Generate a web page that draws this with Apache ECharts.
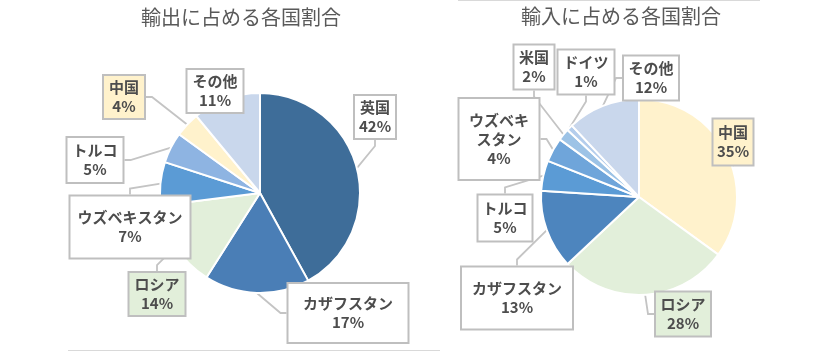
<!DOCTYPE html>
<html>
<head>
<meta charset="utf-8">
<script src="https://cdn.jsdelivr.net/npm/echarts@6/dist/echarts.min.js"></script>
<style>
  html, body { margin: 0; padding: 0; background: #fff; }
  #chart { width: 825px; height: 351px; }
</style>
</head>
<body>
<div id="chart"></div>
<script>
// 輸出
const exportNames = ['英国', 'カザフスタン', 'ロシア', 'ウズベキスタン', 'トルコ', '中国', 'その他']
const exportValues = [42, 17, 14, 7, 5, 4, 11]
// 輸入
const importNames = ['中国', 'ロシア', 'カザフスタン', 'トルコ', 'ウズベキスタン', '米国', 'ドイツ', 'その他']
const importValues = [35, 28, 13, 5, 4, 2, 1, 12]

const exportColors = ['#3E6D99', '#4A7EB6', '#E2EFDA', '#5B9BD5', '#8EB4E2', '#FFF2CC', '#C9D7EC']
const importColors = ['#FFF2CC', '#E2EFDA', '#4D85BE', '#5B9BD5', '#6FA5DA', '#9DC3E6', '#B4CDEC', '#C9D7EC']

// label box: center x, center y, width, height
const exportBoxes = [
  [375, 117, 42, 44],
  [348, 313, 121, 60],
  [157, 294, 57, 44],
  [130, 227, 121, 63],
  [95, 160, 57, 46],
  [124, 97, 42, 44],
  [215, 91, 57, 44]
]
const importBoxes = [
  [733, 142, 41, 47],
  [683, 314, 56, 45],
  [517, 298, 112, 63],
  [505, 218, 55, 47],
  [499, 139, 81, 82],
  [534, 67, 41, 45],
  [586, 72, 57, 45],
  [651, 78, 56, 45]
]

const tinted = { '中国': '#FFF2CC', 'ロシア': '#E2EFDA' }
const lineH = 19

function labelText(name, wrap) {
  if (wrap && name === 'ウズベキスタン') return 'ウズベキ\nスタン'
  return name
}

function buildData(names, values, colors, boxes, wrap) {
  return names.map((n, i) => {
    const b = boxes[i]
    const lines = labelText(n, wrap).split('\n').length + 1
    const padV = Math.max(1, (b[3] - 2 - lines * lineH) / 2)
    return {
      name: n,
      value: values[i],
      itemStyle: { color: colors[i] },
      label: {
        width: b[2] - 2,
        padding: [padV, 0],
        backgroundColor: tinted[n] || '#fff'
      }
    }
  })
}

function pieSeries(names, values, colors, boxes, center, radius, wrap) {
  return {
    type: 'pie',
    center: center,
    radius: radius,
    startAngle: 90,
    clockwise: true,
    avoidLabelOverlap: false,
    emphasis: { scale: false },
    itemStyle: { borderColor: '#fff', borderWidth: 2 },
    label: {
      show: true,
      position: 'outside',
      formatter: (p) => labelText(p.name, wrap) + '\n' + p.value + '%',
      color: '#4D4D4D',
      fontFamily: 'Noto Sans CJK JP',
      fontWeight: 'bold',
      fontSize: 15,
      lineHeight: lineH,
      align: 'center',
      borderColor: '#BFBFBF',
      borderWidth: 2
    },
    labelLine: {
      show: true,
      length: 10,
      length2: 6,
      lineStyle: { color: '#C4C4C4', width: 1.8 }
    },
    labelLayout: (p) => {
      const b = boxes[p.dataIndex]
      return { x: b[0], y: b[1], align: 'center', verticalAlign: 'middle' }
    },
    data: buildData(names, values, colors, boxes, wrap)
  }
}

const chart = echarts.init(document.getElementById('chart'))
chart.setOption({
  animation: false,
  title: [
    {
      text: '輸出に占める各国割合',
      left: 141,
      top: 7,
      padding: 0,
      textStyle: { color: '#595959', fontSize: 20, fontWeight: 'normal', fontFamily: 'Noto Sans CJK JP' }
    },
    {
      text: '輸入に占める各国割合',
      left: 521,
      top: 6,
      padding: 0,
      textStyle: { color: '#595959', fontSize: 20, fontWeight: 'normal', fontFamily: 'Noto Sans CJK JP' }
    }
  ],
  graphic: [
    { type: 'line', shape: { x1: 68, y1: 350.5, x2: 440, y2: 350.5 }, style: { stroke: '#D9D9D9', lineWidth: 1 } },
    { type: 'line', shape: { x1: 458, y1: 0.5, x2: 760, y2: 0.5 }, style: { stroke: '#D9D9D9', lineWidth: 1 } }
  ],
  series: [
    pieSeries(exportNames, exportValues, exportColors, exportBoxes, [260, 193], 100, false),
    pieSeries(importNames, importValues, importColors, importBoxes, [639, 197], 98, true)
  ]
})
</script>
</body>
</html>
